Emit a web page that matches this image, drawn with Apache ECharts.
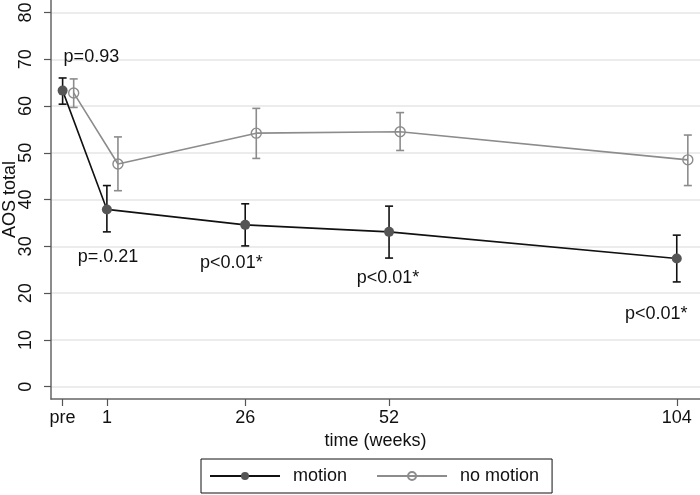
<!DOCTYPE html>
<html>
<head>
<meta charset="utf-8">
<script src="https://cdn.jsdelivr.net/npm/echarts@6/dist/echarts.min.js"></script>
<style>html,body{margin:0;padding:0;background:#fff}#c{width:700px;height:495px}</style>
</head>
<body>
<div id="c"></div>
<script>
const tickValues = [-7, 1, 26, 52, 104];
const tickLabels = ['pre', '1', '26', '52', '104'];
const yTicks = [0, 10, 20, 30, 40, 50, 60, 70, 80];

const weeksMotion = [-7, 1, 26, 52, 104];
const weeksNoMotion = [-5, 3, 28, 54, 106];
const motionMean = [63.3, 37.9, 34.6, 33.1, 27.4];
const motionLo = [60.4, 33.1, 30.1, 27.5, 22.4];
const motionHi = [66.0, 43.0, 39.1, 38.6, 32.4];
const noMotionMean = [62.8, 47.6, 54.2, 54.5, 48.5];
const noMotionLo = [59.7, 41.9, 48.8, 50.5, 43.0];
const noMotionHi = [65.8, 53.4, 59.5, 58.6, 53.8];

const pLabels = ['p=0.93', 'p=.0.21', 'p<0.01*', 'p<0.01*', 'p<0.01*'];
const pX = [-1.8, 1.2, 23.5, 51.8, 100.3];
const pY = [70.4, 27.7, 26.4, 23.2, 15.5];

const FONT = '"Liberation Sans", Arial, Helvetica, sans-serif';
const C_M = '#111111', C_MF = '#555555', C_N = '#8c8c8c';

function errSeries(xs, lo, hi, color) {
  return {
    type: 'custom',
    silent: true,
    z: 3,
    data: xs.map((x, i) => [x, lo[i], hi[i]]),
    renderItem: function (params, api) {
      const x = api.value(0);
      const a = api.coord([x, api.value(1)]);
      const b = api.coord([x, api.value(2)]);
      const w = 4;
      const st = { stroke: color, lineWidth: 1.6 };
      return {
        type: 'group',
        children: [
          { type: 'line', shape: { x1: a[0], y1: a[1], x2: b[0], y2: b[1] }, style: st },
          { type: 'line', shape: { x1: a[0] - w, y1: a[1], x2: a[0] + w, y2: a[1] }, style: st },
          { type: 'line', shape: { x1: b[0] - w, y1: b[1], x2: b[0] + w, y2: b[1] }, style: st }
        ]
      };
    }
  };
}

const chart = echarts.init(document.getElementById('c'), null, { renderer: 'canvas' });
chart.setOption({
  animation: false,
  backgroundColor: '#ffffff',
  textStyle: { fontFamily: FONT },
  grid: { left: 51, right: 0, top: 0, bottom: 96, containLabel: false, outerBoundsMode: 'none' },
  xAxis: {
    type: 'value',
    min: -9.1, max: 108.2,
    name: 'time (weeks)',
    nameLocation: 'middle',
    nameGap: 28,
    nameTextStyle: { fontSize: 18, color: '#111', fontFamily: FONT },
    axisLine: { show: true, onZero: false, lineStyle: { color: '#666', width: 1.5 } },
    axisTick: { show: true, length: 7, customValues: tickValues, lineStyle: { color: '#555', width: 1.2 } },
    axisLabel: {
      customValues: tickValues,
      fontSize: 18, color: '#111', margin: 10, fontFamily: FONT,
      formatter: function (v) { const i = tickValues.indexOf(v); return i >= 0 ? tickLabels[i] : ''; }
    },
    splitLine: { show: false }
  },
  yAxis: {
    type: 'value',
    min: -2.63, max: 82.67,
    name: 'AOS total',
    nameLocation: 'middle',
    nameGap: 32,
    nameMoveOverlap: false,
    nameRotate: 90,
    nameTextStyle: { fontSize: 18, color: '#111', fontFamily: FONT },
    axisLine: { show: true, onZero: false, lineStyle: { color: '#666', width: 1.5 } },
    axisTick: { show: true, length: 7, customValues: yTicks, lineStyle: { color: '#555', width: 1.2 } },
    axisLabel: {
      customValues: yTicks,
      rotate: 90, fontSize: 18, color: '#111', margin: 16, fontFamily: FONT
    },
    splitLine: { show: true, lineStyle: { color: '#e6e6e6', width: 1.5 } }
  },
  legend: {
    data: ['motion', 'no motion'],
    left: 201, top: 459,
    orient: 'horizontal',
    borderColor: '#111', borderWidth: 1,
    padding: [8, 13, 8, 8],
    itemWidth: 70, itemHeight: 10, itemGap: 29,
    textStyle: { fontSize: 18, color: '#111', fontFamily: FONT, padding: [0, 0, 0, 8] }
  },
  series: [
    errSeries(weeksNoMotion, noMotionLo, noMotionHi, C_N),
    errSeries(weeksMotion, motionLo, motionHi, C_M),
    {
      name: 'no motion', type: 'line', z: 4,
      data: weeksNoMotion.map((x, i) => [x, noMotionMean[i]]),
      symbol: 'circle', symbolSize: 10,
      lineStyle: { color: C_N, width: 1.6 },
      itemStyle: { color: 'rgba(255,255,255,0)', borderColor: C_N, borderWidth: 1.4 }
    },
    {
      name: 'motion', type: 'line', z: 5,
      data: weeksMotion.map((x, i) => [x, motionMean[i]]),
      symbol: 'circle', symbolSize: 10,
      lineStyle: { color: C_M, width: 1.6 },
      itemStyle: { color: C_MF, borderColor: C_MF, borderWidth: 0 }
    },
    {
      name: 'p', type: 'scatter', silent: true, symbolSize: 0,
      itemStyle: { opacity: 1 },
      data: pX.map((x, i) => [x, pY[i], pLabels[i]]),
      label: {
        show: true, position: 'inside', fontSize: 18, color: '#111', fontFamily: FONT,
        textBorderWidth: 0,
        formatter: function (p) { return p.data[2]; }
      }
    }
  ]
});
</script>
</body>
</html>
